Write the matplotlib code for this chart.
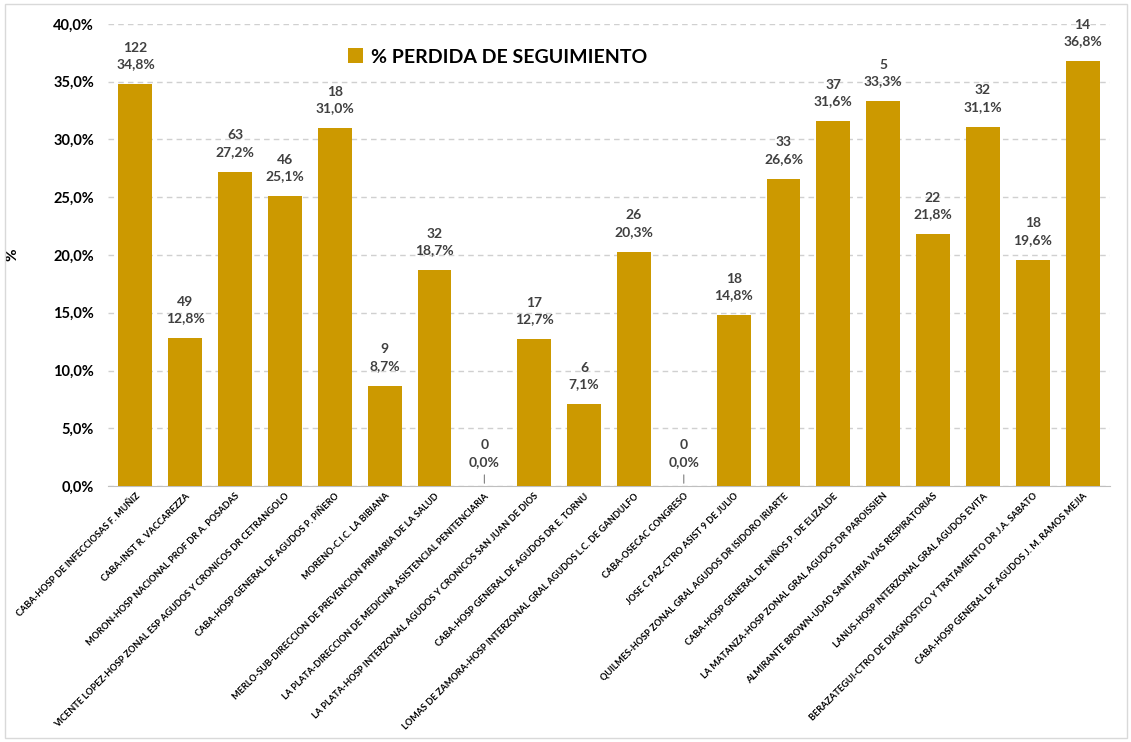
import matplotlib.pyplot as plt
from matplotlib.patches import Rectangle
from matplotlib.ticker import FuncFormatter, MultipleLocator

categories = [
    "CABA-HOSP DE INFECCIOSAS F. MUÑIZ",
    "CABA-INST R. VACCAREZZA",
    "MORON-HOSP NACIONAL PROF DR A. POSADAS",
    "VICENTE LOPEZ-HOSP ZONAL ESP AGUDOS Y CRONICOS DR CETRANGOLO",
    "CABA-HOSP GENERAL DE AGUDOS P. PIÑERO",
    "MORENO-C.I.C. LA BIBIANA",
    "MERLO-SUB-DIRECCION DE PREVENCION PRIMARIA DE LA SALUD",
    "LA PLATA-DIRECCION DE MEDICINA ASISTENCIAL PENITENCIARIA",
    "LA PLATA-HOSP INTERZONAL AGUDOS Y CRONICOS SAN JUAN DE DIOS",
    "CABA-HOSP GENERAL DE AGUDOS DR E. TORNU",
    "LOMAS DE ZAMORA-HOSP INTERZONAL GRAL AGUDOS L.C. DE GANDULFO",
    "CABA-OSECAC CONGRESO",
    "JOSE C PAZ-CTRO ASIST 9 DE JULIO",
    "QUILMES-HOSP ZONAL GRAL AGUDOS DR ISIDORO IRIARTE",
    "CABA-HOSP GENERAL DE NIÑOS P. DE ELIZALDE",
    "LA MATANZA-HOSP ZONAL GRAL AGUDOS DR PAROISSIEN",
    "ALMIRANTE BROWN-UDAD SANITARIA VIAS RESPIRATORIAS",
    "LANUS-HOSP INTERZONAL GRAL AGUDOS EVITA",
    "BERAZATEGUI-CTRO DE DIAGNOSTICO Y TRATAMIENTO DR J.A. SABATO",
    "CABA-HOSP GENERAL DE AGUDOS J. M. RAMOS MEJIA",
]
pct = [34.8, 12.8, 27.2, 25.1, 31.0, 8.7, 18.7, 0.0, 12.7, 7.1,
       20.3, 0.0, 14.8, 26.6, 31.6, 33.3, 21.8, 31.1, 19.6, 36.8]
counts = [122, 49, 63, 46, 18, 9, 32, 0, 17, 6,
          26, 0, 18, 33, 37, 5, 22, 32, 18, 14]
series_name = "% PERDIDA DE SEGUIMIENTO"

FONT = ["Lato", "DejaVu Sans"]
plt.rcParams['font.family'] = FONT
bar_color = "#CC9900"

fig = plt.figure(figsize=(11.31, 7.42), dpi=100)
ax = fig.add_axes([108/1131, 1-486/742, (1110-108)/1131, (486-24)/742])

x = list(range(len(categories)))
vals = [v/100 for v in pct]
ax.bar(x, vals, width=0.68, color=bar_color, label=series_name, zorder=3)

ax.set_ylim(0, 0.40)
ax.set_xlim(-0.55, len(categories)-0.45)
ax.yaxis.set_major_locator(MultipleLocator(0.05))
ax.yaxis.set_major_formatter(FuncFormatter(lambda v, p: f"{v*100:.1f}%".replace('.', ',')))
ax.grid(axis='y', linestyle=(0, (4, 3)), color='#D0D0D0', linewidth=1, zorder=0)
for s in ['top', 'right', 'left']:
    ax.spines[s].set_visible(False)
ax.spines['bottom'].set_color('#BFBFBF')
ax.tick_params(axis='y', length=0, pad=10, labelsize=10.5)
for t in ax.get_yticklabels():
    t.set_fontweight('bold')
ax.tick_params(axis='x', length=0, pad=4)
ax.set_xticks(x)
ax.set_xticklabels(categories, rotation=45, ha='right', rotation_mode='anchor',
                   fontsize=6.6, fontweight='bold')
ax.set_ylabel('%', fontsize=11, fontweight='bold')
ax.yaxis.set_label_coords(-0.088, 0.5)

for xi, v, c in zip(x, vals, counts):
    lbl = f"{c}\n{v*100:.1f}%".replace('.', ',')
    off = 10 if v > 0 else 13
    ax.annotate(lbl, (xi, v), xytext=(0, off), textcoords='offset points',
                ha='center', va='bottom', fontsize=10, color='#404040',
                linespacing=1.45, fontweight='bold')
    if v == 0:
        ax.annotate('', (xi, v), xytext=(0, 10), textcoords='offset points',
                    arrowprops=dict(arrowstyle='-', color='#7F7F7F', lw=0.8))

ax.legend(loc='upper left', bbox_to_anchor=(0.222, 0.985), frameon=False,
          prop={'size': 14, 'weight': 'bold'}, handlelength=0.8,
          handleheight=0.8, handletextpad=0.4)

fig.patches.append(Rectangle((5/1131, 4/742), 1122/1131, 734/742, transform=fig.transFigure,
                             fill=False, edgecolor='#D9D9D9', linewidth=1))

fig.savefig('out.png', dpi=100)
